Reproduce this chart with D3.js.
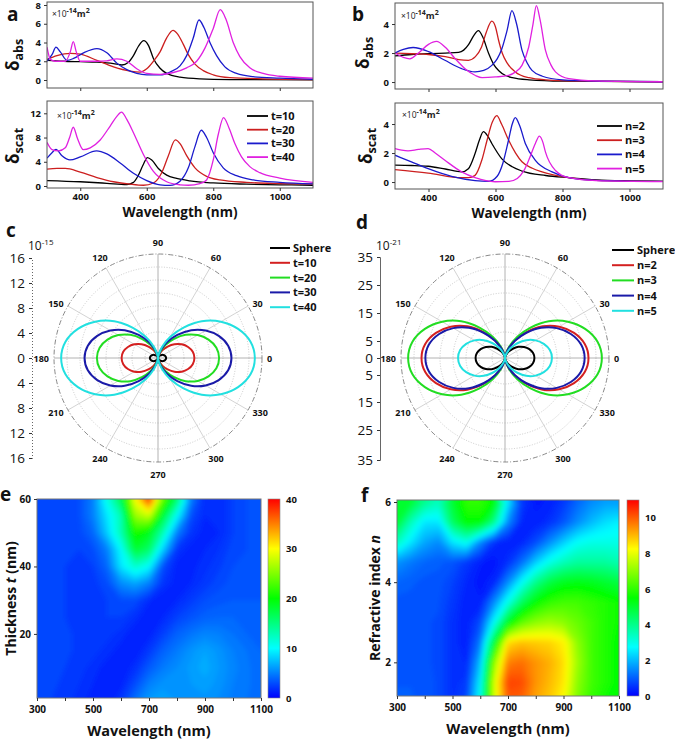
<!DOCTYPE html>
<html><head><meta charset="utf-8">
<script src="https://cdn.jsdelivr.net/npm/d3@7/dist/d3.min.js"></script>
<style>
body{margin:0;background:#fff;}
svg{display:block;font-family:'Open Sans','DejaVu Sans',sans-serif;}
</style></head>
<body><svg id="fig" width="675" height="741" viewBox="0 0 675 741"></svg>
<script>
// ================= DATA =================
const wavelengthTicks = [400, 600, 800, 1000];
const lineColors = ["#000000", "#cc1f1f", "#1a1acc", "#e020e0"];
const tLabels = ["t=10", "t=20", "t=30", "t=40"];
const nLabels = ["n=2", "n=3", "n=4", "n=5"];

// panel a (top): absorption, ×1e-14 m², [wavelength nm, value]
const absT10 = [[300,2.1],[350,2.0],[400,1.95],[450,1.9],[500,1.75],[525,1.6],[545,1.9],[560,2.6],[575,3.6],[591,4.2],[605,3.7],[620,2.3],[640,1.25],[660,0.7],[700,0.3],[760,0.12],[850,0.05],[1100,0.02]];
const absT20 = [[300,2.2],[330,2.6],[370,2.85],[400,2.75],[450,2.1],[500,1.4],[550,0.95],[580,0.85],[600,1.2],[620,2.0],[640,3.0],[660,4.5],[679,5.3],[693,4.9],[710,3.8],[725,2.7],[745,1.7],[770,1.0],[800,0.55],[850,0.25],[950,0.12],[1100,0.05]];
const absT30 = [[300,2.0],[315,2.7],[327,3.5],[340,3.0],[360,2.1],[380,2.3],[410,2.9],[450,3.35],[480,2.9],[510,1.8],[540,1.1],[570,0.7],[600,0.55],[640,0.55],[670,0.85],[700,1.5],[720,2.6],[740,4.5],[757,6.4],[772,5.6],[790,4.0],[810,2.6],[835,1.4],[870,0.7],[920,0.35],[1000,0.2],[1100,0.08]];
const absT40 = [[300,3.5],[310,2.2],[325,2.0],[355,2.0],[370,3.0],[379,4.1],[388,3.0],[400,2.0],[450,2.0],[480,2.05],[510,2.25],[540,2.0],[570,1.2],[600,0.7],[640,0.6],[680,0.8],[720,1.3],[750,2.0],[775,3.4],[800,5.5],[821,7.5],[838,6.5],[860,4.0],[880,2.5],[910,1.3],[950,0.7],[1000,0.4],[1100,0.2]];
// panel a (bottom): scattering
const scatT10 = [[300,0.9],[400,0.7],[480,0.45],[540,0.25],[560,0.6],[575,1.8],[590,3.6],[602,4.7],[615,4.3],[635,2.9],[660,1.8],[690,1.25],[730,0.85],[800,0.5],[900,0.3],[1000,0.2],[1100,0.12]];
const scatT20 = [[300,2.8],[330,2.9],[355,2.9],[400,2.3],[450,1.4],[500,0.7],[550,0.3],[590,0.12],[620,0.5],[645,2.2],[665,5.0],[686,7.6],[700,7.0],[720,5.0],[745,3.0],[780,1.6],[820,1.0],[900,0.6],[1000,0.4],[1100,0.3]];
const scatT30 = [[300,4.6],[315,5.5],[327,6.05],[345,5.0],[369,4.3],[400,4.8],[449,5.8],[480,5.3],[520,3.8],[560,2.1],[600,0.9],[640,0.2],[670,0.1],[700,0.8],[725,3.0],[745,6.5],[764,9.2],[780,8.0],[800,5.5],[830,3.0],[870,1.7],[920,1.0],[1000,0.6],[1100,0.35]];
const scatT40 = [[300,7.2],[315,6.0],[335,5.8],[355,6.3],[368,8.0],[379,9.7],[392,7.8],[409,6.0],[430,6.3],[460,7.6],[490,9.9],[510,11.5],[524,12.2],[540,11.0],[560,8.8],[590,5.2],[620,2.4],[660,0.7],[700,0.2],[725,0.12],[760,0.4],[780,1.0],[800,4.3],[815,8.5],[831,11.3],[848,9.5],[865,7.0],[885,4.8],[910,3.2],[940,2.2],[1000,1.3],[1100,0.6]];
// panel b (top): absorption vs refractive index
const absN2 = [[300,1.8],[350,1.9],[400,1.95],[450,2.0],[490,2.05],[505,2.2],[520,2.6],[535,3.2],[549,3.54],[562,3.1],[579,2.0],[595,1.2],[609,0.8],[630,0.45],[650,0.3],[700,0.15],[800,0.06],[1100,0.02]];
const absN3 = [[300,2.0],[350,1.95],[400,1.9],[450,1.75],[490,1.55],[519,1.5],[540,1.75],[558,2.4],[572,3.4],[589,4.2],[600,3.8],[609,2.9],[620,2.0],[635,1.3],[659,0.7],[700,0.3],[750,0.15],[850,0.06],[1100,0.02]];
const absN4 = [[300,2.0],[325,2.25],[354,2.38],[400,2.1],[449,1.5],[499,0.92],[539,0.7],[565,0.8],[589,1.15],[605,1.6],[619,2.3],[635,3.6],[649,4.92],[663,4.0],[679,2.2],[695,1.3],[709,0.8],[740,0.4],[800,0.15],[900,0.06],[1100,0.02]];
const absN5 = [[300,2.0],[325,1.7],[344,1.6],[370,2.0],[400,2.6],[424,2.8],[450,2.4],[480,1.6],[510,0.9],[540,0.45],[560,0.3],[600,0.35],[639,0.46],[660,0.7],[679,1.15],[699,2.4],[712,4.0],[722,5.27],[733,4.3],[749,2.2],[765,1.2],[779,0.7],[819,0.23],[900,0.08],[1100,0.02]];
// panel b (bottom): scattering vs refractive index
const scatN2 = [[300,1.16],[350,1.14],[399,1.09],[450,0.9],[499,0.7],[519,0.92],[539,1.97],[552,2.9],[564,3.47],[576,3.2],[589,2.66],[619,1.6],[650,1.05],[679,0.76],[750,0.45],[819,0.3],[900,0.15],[1000,0.08],[1100,0.05]];
const scatN3 = [[300,0.86],[399,0.62],[499,0.3],[520,0.3],[539,0.46],[559,1.5],[575,2.9],[590,4.1],[604,4.58],[618,4.0],[639,2.9],[660,2.0],[679,1.4],[710,0.95],[739,0.7],[819,0.3],[900,0.12],[1100,0.04]];
const scatN4 = [[300,1.85],[349,1.39],[399,0.92],[469,0.39],[539,0.1],[580,0.05],[605,0.4],[622,1.3],[639,2.9],[650,4.0],[659,4.44],[672,3.9],[689,2.66],[719,1.5],[769,0.7],[819,0.3],[900,0.12],[1100,0.04]];
const scatN5 = [[300,2.31],[320,2.2],[339,2.15],[370,2.25],[399,2.31],[420,2.0],[449,1.5],[499,0.7],[539,0.3],[599,0.02],[640,0.05],[665,0.25],[685,0.8],[699,1.5],[719,2.66],[731,3.17],[742,2.7],[749,2.08],[779,0.8],[819,0.3],[900,0.1],[1100,0.03]];

// panels c,d: far-field polar patterns (quarter lobe profile, mirrored by symmetry)
const polarAngles = [0,10,20,30,40,50,60,70,80,90];
const polarProfile = [1.0,0.97,0.88,0.75,0.59,0.41,0.25,0.12,0.03,0.0];
const polarSpokes = [0,30,60,90,120,150,180,210,240,270,300,330];
const cNames = ["Sphere","t=10","t=20","t=30","t=40"];
const cAmps = [1.25, 5.6, 9.4, 11.3, 14.9];          // ×1e-15
const dNames = ["Sphere","n=2","n=3","n=4","n=5"];
const dAmps = [9.9, 28.1, 32.6, 26.8, 15.8];         // ×1e-21
const polarColors = ["#000000","#d42020","#22dd22","#1a1aa8","#22e0e0"];
const cAxisTicks = [-16,-12,-8,-4,0,4,8,12,16];
const dAxisTicks = [-35,-25,-15,-5,0,5,15,25,35];

// panels e,f: maps
const mapWl = [300,350,400,450,500,550,600,650,700,750,800,850,900,950,1000,1050,1100];
const mapT = [60,55,50,45,40,35,30,25,20,15,10,5,0];
const mapE = [
 [2.5,2.5,2.8,3,5,11,17,30,38,24,16,5,1.5,1.5,2.5,3,3],
 [2.5,2.5,2.8,3,5,9,13,26,28,18,10,3,1.5,1.5,2.5,3,3],
 [2.5,2.5,2.5,2.8,4,8,13,21,19,13,5,2,1.2,1.5,2.5,3,3],
 [2.5,2.5,2.5,2.5,3,5,10,18,16,8,2,1.2,1.5,2,2.8,3,3],
 [2.5,2.5,2.5,2.3,2.5,4,9,12,10,3,1.2,1.3,1.8,2.4,3,3,3],
 [2.5,2.8,2.5,2.2,2.2,3,5.5,6.5,5,2,1.2,1.5,2.2,2.8,3.2,3.3,3.3],
 [2.8,3,2.5,2.2,2.2,2.5,3,3,1.6,1,1.5,2.3,3,3.3,3.5,3.5,3.5],
 [2.8,2.8,2.5,2.3,2.3,2.5,2.5,1.8,1,1.5,2.5,3.2,3.8,4,4,3.8,3.6],
 [2.8,2.8,2.6,2.4,2.4,2.2,1.8,1,1.2,2.5,3.8,4.6,5.2,5,4.5,4,3.8],
 [2.8,2.8,2.6,2.4,2.2,1.8,1.2,1,2.2,3.8,4.8,5.8,6.5,5.8,5,4.5,4],
 [2.7,2.7,2.5,2.2,1.8,1.2,1,1.8,3.5,4.8,5.5,6.2,6.8,6,5.2,4.6,4.2],
 [2.6,2.6,2.4,2,1.5,1,1.3,3,5,5.8,5.8,6,6.3,5.8,5,4.6,4.2],
 [2.5,2.5,2.2,1.8,1.2,1,2.2,4.5,6.2,6.5,6,5.8,5.8,5.4,4.8,4.5,4.2]
];
const mapN = [6,5.5,5,4.5,4,3.5,3,2.5,2,1.5,1];
const mapF = [
 [5,5,4,3.5,5,6,6,5.5,2.5,0.6,0.25,0.3,0.6,1.1,1.5,1.7,1.7],
 [5,3.5,2.5,2.5,4.5,5.5,5.5,4,1.5,0.4,0.3,0.5,0.9,1.5,2,2.4,2.6],
 [3.5,2.5,1.8,1.5,2.5,3,1.5,0.5,0.3,0.4,0.8,1.5,2.2,2.8,3,3,3],
 [1.6,1.3,1.1,1,0.9,0.6,0.3,0.2,0.5,1.2,2.2,3,3.5,3.8,3.8,3.8,3.6],
 [1.1,1,0.9,0.9,0.7,0.4,0.2,0.4,1.5,2.8,4,4.8,5.2,5.3,5.2,5,4.8],
 [0.9,0.9,0.9,0.85,0.6,0.3,0.3,1.5,3,4.5,5.5,6,6.2,6.2,6,5.8,5.6],
 [0.9,0.9,0.85,0.8,0.5,0.3,0.8,2.8,5.2,6.5,7,7.2,7,6.6,6.2,5.8,5.6],
 [0.9,0.9,0.85,0.8,0.5,0.3,1.3,5,8.6,8.9,8.8,8.7,8.4,7,6.2,5.8,5.5],
 [0.9,0.9,0.85,0.8,0.5,0.4,2,7,9.6,9.8,9.4,9.1,8.6,7.2,6.2,5.8,5.5],
 [0.95,0.95,0.9,0.8,0.5,0.6,2.6,7.8,10.3,10.2,9.4,9,8.5,7,6.2,5.8,5.5],
 [1,1,0.9,0.8,0.5,0.8,3,7.8,10,9.9,9.2,8.8,8.2,6.8,6,5.6,5.4]
];
const eBarTicks = [0,10,20,30,40];
const fBarTicks = [0,2,4,6,8,10];
const mapXTicks = [300,400,500,600,700,800,900,1000,1100];
const jetStops = ["#0000ff","#00ffff","#00ff00","#ffff00","#ff0000"];

// ================= DRAWING =================
const FONT = "'Open Sans','DejaVu Sans',sans-serif";
const fmt = d3.format("d");
const svg = d3.select("#fig");
const defs = svg.append("defs");

function label(g, x, y, s, size, opts = {}) {
  return g.append("text").attr("x", x).attr("y", y).text(s)
    .attr("font-size", size).attr("font-weight", opts.weight || "bold")
    .attr("text-anchor", opts.anchor || "start").attr("fill", opts.fill || "#111");
}
function styleAxis(a, size, weight) {
  a.selectAll("text").attr("font-size", size).attr("font-weight", weight || "bold")
    .attr("font-family", FONT).attr("fill", "#111");
  a.selectAll(".tick line").attr("stroke", "#333");
}
function unitLabel(g, x, y) {
  const t = g.append("text").attr("x", x).attr("y", y).attr("font-size", 8.5).attr("fill", "#222");
  t.append("tspan").text("×10");
  t.append("tspan").attr("dy", -4).attr("font-size", 7).attr("font-weight", "bold").text("-14");
  t.append("tspan").attr("dy", 4).attr("font-weight", "bold").attr("font-size", 9).text("m");
  t.append("tspan").attr("dy", -4).attr("font-size", 7).attr("font-weight", "bold").text("2");
}

function spectrum(p) {
  const g = svg.append("g");
  const x = d3.scaleLinear().domain([300, 1100]).range([p.x0, p.x1]);
  const y = d3.scaleLinear().domain(p.yDomain).range([p.y1, p.y0]);
  const cid = "clip-" + p.id;
  defs.append("clipPath").attr("id", cid).append("rect")
    .attr("x", p.x0).attr("y", p.y0).attr("width", p.x1 - p.x0).attr("height", p.y1 - p.y0);
  const line = d3.line().x(d => x(d[0])).y(d => y(d[1])).curve(d3.curveMonotoneX);
  const lg = g.append("g").attr("clip-path", `url(#${cid})`);
  p.series.forEach((s, i) => lg.append("path").attr("d", line(s)).attr("fill", "none")
    .attr("stroke", lineColors[i]).attr("stroke-width", 1.3));
  g.append("rect").attr("x", p.x0).attr("y", p.y0).attr("width", p.x1 - p.x0).attr("height", p.y1 - p.y0)
    .attr("fill", "none").attr("stroke", "#555").attr("stroke-width", 1);
  const xa = g.append("g").attr("transform", `translate(0,${p.y1})`)
    .call(d3.axisBottom(x).tickValues(wavelengthTicks).tickFormat(fmt).tickSize(3).tickPadding(2));
  xa.select(".domain").remove();
  styleAxis(xa, 9.5);
  if (!p.showX) xa.selectAll("text").remove();
  const ya = g.append("g").attr("transform", `translate(${p.x0},0)`)
    .call(d3.axisLeft(y).tickValues(p.yTicks).tickFormat(fmt).tickSize(3).tickPadding(3));
  ya.select(".domain").remove();
  styleAxis(ya, 9.5);
  unitLabel(g, p.unit[0], p.unit[1]);
  const yl = g.append("text").attr("transform", `translate(${p.ylab[0]},${p.ylab[1]}) rotate(-90)`)
    .attr("text-anchor", "middle").attr("font-weight", "bold").attr("fill", "#111");
  yl.append("tspan").attr("font-size", 17).text("δ");
  yl.append("tspan").attr("font-size", 12.5).attr("dy", 4).text(p.sub);
  if (p.showX) label(g, (p.x0 + p.x1) / 2, p.y1 + 29, "Wavelength (nm)", 13.5, { anchor: "middle" });
  if (p.legend) {
    p.legend.labels.forEach((l, i) => {
      const yy = p.legend.y0 + i * p.legend.dy;
      g.append("line").attr("x1", p.legend.x).attr("x2", p.legend.x + p.legend.len).attr("y1", yy).attr("y2", yy)
        .attr("stroke", lineColors[i]).attr("stroke-width", 1.8);
      label(g, p.legend.x + p.legend.len + 3, yy + 4, l, 11);
    });
  }
}

spectrum({ id: "a1", x0: 47, x1: 313, y0: 2, y1: 88, yDomain: [-0.853, 8.32], yTicks: [0,2,4,6,8],
  series: [absT10, absT20, absT30, absT40], showX: false, unit: [52, 17], ylab: [19, 55], sub: "abs" });
spectrum({ id: "a2", x0: 47, x1: 313, y0: 101, y1: 188, yDomain: [-0.33, 14.03], yTicks: [0,4,8,12],
  series: [scatT10, scatT20, scatT30, scatT40], showX: true, unit: [57, 119], ylab: [19, 146], sub: "scat",
  legend: { x: 247, y0: 116, dy: 13.7, len: 21, labels: tLabels } });
spectrum({ id: "b1", x0: 395, x1: 663, y0: 3, y1: 89, yDomain: [-0.48, 5.45], yTicks: [0,2,4],
  series: [absN2, absN3, absN4, absN5], showX: false, unit: [401, 19], ylab: [369, 53], sub: "abs" });
spectrum({ id: "b2", x0: 395, x1: 663, y0: 103, y1: 189, yDomain: [-0.48, 5.45], yTicks: [0,2,4],
  series: [scatN2, scatN3, scatN4, scatN5], showX: true, unit: [402, 118], ylab: [372, 146], sub: "scat",
  legend: { x: 597, y0: 126, dy: 14.2, len: 25, labels: nLabels } });

// ---- polar ----
function polar(p) {
  const g = svg.append("g");
  const r = d3.scaleLinear().domain([0, p.max]).range([0, p.R]);
  const gg = g.append("g").attr("transform", `translate(${p.cx},${p.cy})`);
  d3.range(1, 8).forEach(k => gg.append("circle").attr("r", p.R * k / 8).attr("fill", "none")
    .attr("stroke", "#b4b4b4").attr("stroke-width", 0.7).attr("stroke-dasharray", "1,1.6"));
  polarSpokes.forEach(a => {
    const rad = a * Math.PI / 180;
    gg.append("line").attr("x1", 0).attr("y1", 0).attr("x2", p.R * Math.cos(rad)).attr("y2", -p.R * Math.sin(rad))
      .attr("stroke", a % 90 === 0 ? "#a0a0a0" : "#c8c8c8").attr("stroke-width", 0.8);
  });
  gg.append("circle").attr("r", p.R).attr("fill", "none").attr("stroke", "#7a7a7a")
    .attr("stroke-width", 0.9).attr("stroke-dasharray", "5,2,1,2");
  polarSpokes.forEach(a => {
    const rad = a * Math.PI / 180, c = Math.cos(rad), s = Math.sin(rad);
    let rr, anchor;
    if (Math.abs(c) < 0.6) { rr = p.R + 12; anchor = "middle"; }
    else { rr = p.R + 5; anchor = c > 0 ? "start" : "end"; }
    label(gg, rr * c, -rr * s + 3.5, String(a), 9, { anchor });
  });
  const fullAngles = d3.range(0, 360, 10);
  const prof = fullAngles.map(a => { let f = a % 180; if (f > 90) f = 180 - f; return polarProfile[polarAngles.indexOf(f)]; });
  const lr = d3.lineRadial().angle(d => (90 - d[0]) * Math.PI / 180).radius(d => r(d[1])).curve(d3.curveCardinalClosed);
  p.amps.forEach((A, i) => {
    gg.append("path").attr("d", lr(fullAngles.map((a, j) => [a, A * prof[j]])))
      .attr("fill", "none").attr("stroke", polarColors[i]).attr("stroke-width", 2);
  });
  // radial value axis at left
  const ya = d3.scaleLinear().domain(p.ticks).range(p.tickPos);
  const ax = g.append("g").attr("transform", `translate(${p.axisX},0)`)
    .call(d3.axisLeft(ya).tickValues(p.ticks).tickFormat(d => Math.abs(d)).tickSize(3).tickPadding(4));
  styleAxis(ax, 13.5, "normal");
  ax.select(".domain").attr("stroke", "#666").attr("stroke-dasharray", p.dotted ? "1,2" : null);
  const sup = g.append("text").attr("x", p.axisX - 4).attr("y", p.cy - 108).attr("font-size", 12).attr("fill", "#111");
  sup.append("tspan").text("10");
  sup.append("tspan").attr("dy", -5).attr("font-size", 8).text(p.exp);
  p.names.forEach((nm, i) => {
    const yy = p.leg[1] + i * p.leg[3];
    g.append("line").attr("x1", p.leg[0]).attr("x2", p.leg[0] + p.leg[2]).attr("y1", yy).attr("y2", yy)
      .attr("stroke", polarColors[i]).attr("stroke-width", 2);
    label(g, p.leg[0] + p.leg[2] + 3, yy + 4, nm, 11);
  });
}
polar({ cx: 158, cy: 358, R: 104, max: 16, amps: cAmps, names: cNames, ticks: cAxisTicks, axisX: 32,
  tickPos: [458, 433, 408, 383, 358, 333, 308, 283, 258],
  dotted: true, exp: "-15", leg: [270, 248, 20, 14.8] });
polar({ cx: 505, cy: 358, R: 104, max: 35, amps: dAmps, names: dNames, ticks: dAxisTicks, axisX: 380,
  tickPos: [460, 430, 402, 375, 358, 341, 313, 285, 257],
  dotted: false, exp: "-21", leg: [612, 250, 22, 15.2] });

// ---- maps ----
function heatmap(p) {
  const g = svg.append("g");
  const x = d3.scaleLinear().domain([300, 1100]).range([p.x0, p.x1]);
  const y = d3.scaleLinear().domain(p.yDomain).range([p.y1, p.y0]);
  const color = d3.scaleLinear().domain(d3.range(5).map(i => p.cmax * i / 4)).range(jetStops).clamp(true);
  const nx = mapWl.length, ny = p.rows.length;
  const values = p.grid.flat();
  const step = p.cmax / 80;
  const contours = d3.contours().size([nx, ny]).thresholds(d3.range(0, p.cmax, step))(values);
  const dW = mapWl[1] - mapWl[0], dR = p.rows[1] - p.rows[0];
  const proj = d3.geoTransform({ point(px, py) {
    this.stream.point(x(mapWl[0] + (px - 0.5) * dW), y(p.rows[0] + (py - 0.5) * dR)); } });
  const path = d3.geoPath(proj);
  const cid = "clip-" + p.id;
  defs.append("clipPath").attr("id", cid).append("rect")
    .attr("x", p.x0).attr("y", p.y0).attr("width", p.x1 - p.x0).attr("height", p.y1 - p.y0);
  const fid = "blur-" + p.id;
  defs.append("filter").attr("id", fid).attr("x", "-5%").attr("y", "-5%").attr("width", "110%").attr("height", "110%")
    .append("feGaussianBlur").attr("stdDeviation", 2.6);
  g.append("g").attr("clip-path", `url(#${cid})`).append("g").attr("filter", `url(#${fid})`)
    .selectAll("path").data(contours).join("path").attr("d", path)
    .attr("fill", d => color(d.value + step / 2)).attr("stroke", "none");
  g.append("rect").attr("x", p.x0).attr("y", p.y0).attr("width", p.x1 - p.x0).attr("height", p.y1 - p.y0)
    .attr("fill", "none").attr("stroke", "#777").attr("stroke-width", 1);
  const xa = g.append("g").attr("transform", `translate(0,${p.y1})`)
    .call(d3.axisBottom(x).tickValues(mapXTicks).tickSize(3).tickPadding(5)
      .tickFormat(d => ((d - 300) % 200 === 0 ? fmt(d) : "")));
  xa.select(".domain").remove();
  styleAxis(xa, 10);
  const ya = g.append("g").attr("transform", `translate(${p.x0},0)`)
    .call(d3.axisLeft(y).tickValues(p.yTicks).tickFormat(fmt).tickSize(3).tickPadding(3));
  ya.select(".domain").remove();
  styleAxis(ya, 10);
  label(g, (p.x0 + p.x1) / 2, p.y1 + 38, "Wavelength (nm)", 14.5, { anchor: "middle" });
  const yl = g.append("text").attr("transform", `translate(${p.ylab[0]},${(p.y0 + p.y1) / 2 + p.ylab[1]}) rotate(-90)`)
    .attr("text-anchor", "middle").attr("font-weight", "bold").attr("font-size", 14).attr("fill", "#111");
  yl.append("tspan").text(p.ytitle[0]);
  yl.append("tspan").attr("font-style", "italic").text(p.ytitle[1]);
  yl.append("tspan").text(p.ytitle[2]);
  // colorbar
  const gid = "grad-" + p.id;
  const grad = defs.append("linearGradient").attr("id", gid).attr("x1", 0).attr("y1", 1).attr("x2", 0).attr("y2", 0);
  jetStops.forEach((c, i) => grad.append("stop").attr("offset", i / 4).attr("stop-color", c));
  g.append("rect").attr("x", p.bar[0]).attr("y", p.y0).attr("width", p.bar[1]).attr("height", p.y1 - p.y0)
    .attr("fill", `url(#${gid})`).attr("stroke", "#888").attr("stroke-width", 0.6);
  const cb = d3.scaleLinear().domain([0, p.cmax]).range([p.y1, p.y0]);
  const ca = g.append("g").attr("transform", `translate(${p.bar[0] + p.bar[1]},0)`)
    .call(d3.axisRight(cb).tickValues(p.barTicks).tickFormat(fmt).tickSize(0).tickPadding(6));
  ca.select(".domain").remove();
  styleAxis(ca, 9.5);
}
heatmap({ id: "e", x0: 37, x1: 261, y0: 499, y1: 698, yDomain: [1, 60], rows: mapT, grid: mapE, cmax: 40,
  yTicks: [20, 40, 60], ylab: [16, 0], ytitle: ["Thickness ", "t", " (nm)"], bar: [268, 12], barTicks: eBarTicks });
heatmap({ id: "f", x0: 397, x1: 619, y0: 500, y1: 696, yDomain: [1.16, 6.05], rows: mapN, grid: mapF, cmax: 11,
  yTicks: [2, 4, 6], ylab: [380, 0], ytitle: ["Refractive index ", "n", ""], bar: [627, 12], barTicks: fBarTicks });

// panel letters
label(svg, 7, 21, "a", 19);
label(svg, 352, 21, "b", 19);
label(svg, 6, 237, "c", 19);
label(svg, 356, 229, "d", 19);
label(svg, 0, 501, "e", 19);
label(svg, 361, 502, "f", 19);
</script>
</body></html>
